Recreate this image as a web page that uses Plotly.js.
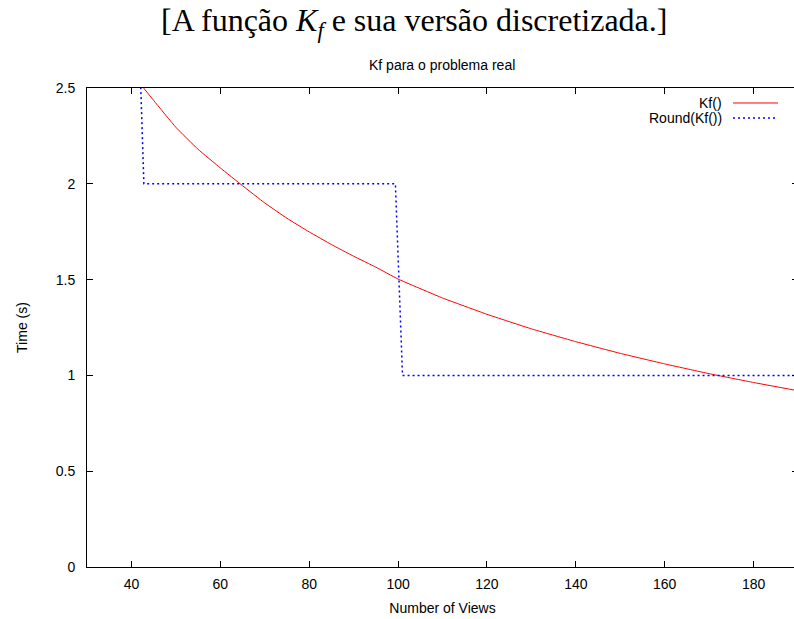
<!DOCTYPE html>
<html>
<head>
<meta charset="utf-8">
<script src="https://cdn.plot.ly/plotly-3.0.1.min.js"></script>
<style>
html, body { margin:0; padding:0; overflow:hidden; background:#fff; }
#chart { width:800px; height:619px; }
</style>
</head>
<body>
<div id="chart"></div>
<script>
// Kf() curve
const kfX = [41, 45, 50, 55, 60, 65, 70, 75, 80, 85, 90, 95, 100, 110, 120, 130, 140, 150, 160, 170, 180, 190];
const kfY = [2.55, 2.435, 2.295, 2.18, 2.083, 1.99, 1.90, 1.82, 1.749, 1.683, 1.622, 1.565, 1.503, 1.404, 1.319, 1.243, 1.176, 1.115, 1.060, 1.009, 0.963, 0.92];
// Round(Kf()) step curve
const roundX = [41.4, 42.8, 99.4, 101.0, 190.0];
const roundY = [3.0, 2.0, 2.0, 1.0, 1.0];

const seriesNames = ["Kf()", "Round(Kf())"];
const xTicks = [40, 60, 80, 100, 120, 140, 160, 180];
const yTicks = [0, 0.5, 1, 1.5, 2, 2.5];

const FONT = "Liberation Sans, Arial, sans-serif";

const traces = [
  {x: kfX, y: kfY, type: "scatter", mode: "lines", name: seriesNames[0],
   line: {color: "#ff0000", width: 1, shape: "spline", smoothing: 0.3}},
  {x: roundX, y: roundY, type: "scatter", mode: "lines", name: seriesNames[1],
   line: {color: "#0000ff", width: 1.5, dash: "2px,3px"}}
];

const axisCommon = {
  showline: true, linecolor: "#000", linewidth: 1, mirror: "ticks",
  ticks: "inside", ticklen: 6, tickcolor: "#000", tickwidth: 1,
  showgrid: false, zeroline: false,
  tickfont: {family: FONT, size: 14, color: "#000"}
};

const layout = {
  width: 800, height: 619,
  margin: {l: 87, r: 2, t: 88, b: 52},
  paper_bgcolor: "#fff", plot_bgcolor: "#fff",
  showlegend: false,
  xaxis: Object.assign({}, axisCommon, {
    range: [30, 190], tickmode: "array", tickvals: xTicks,
    ticktext: xTicks.map(String),
    ticklabelstandoff: 4,
    title: {text: "Number of Views", font: {family: FONT, size: 14, color: "#000"}, standoff: 12}
  }),
  yaxis: Object.assign({}, axisCommon, {
    range: [0, 2.5], tickmode: "array", tickvals: yTicks,
    ticktext: yTicks.map(String),
    ticklabelstandoff: 8,
    title: {text: "Time (s)", font: {family: FONT, size: 14, color: "#000"}, standoff: 24}
  }),
  annotations: [
    {text: "[A função <i>K</i><sub><i>f</i></sub> e sua versão discretizada.]",
     xref: "paper", yref: "paper", x: 0.46, y: 1.136, xanchor: "center", yanchor: "middle",
     showarrow: false, font: {family: "Liberation Serif, DejaVu Serif, serif", size: 32, color: "#000"}},
    {text: "Kf para o problema real",
     xref: "paper", yref: "paper", x: 0.4993, y: 1.048, xanchor: "center", yanchor: "middle",
     showarrow: false, font: {family: FONT, size: 14, color: "#000"}},
    {text: seriesNames[0], xref: "paper", yref: "paper", x: 0.8955, y: 0.9677,
     xanchor: "right", yanchor: "middle", showarrow: false,
     font: {family: FONT, size: 14, color: "#000"}},
    {text: seriesNames[1], xref: "paper", yref: "paper", x: 0.8955, y: 0.9364,
     xanchor: "right", yanchor: "middle", showarrow: false,
     font: {family: FONT, size: 14, color: "#000"}}
  ],
  shapes: [
    {type: "line", xref: "paper", yref: "paper", x0: 0.9086, x1: 0.9719, y0: 0.9687, y1: 0.9687,
     line: {color: "#ff0000", width: 1}},
    {type: "line", xref: "paper", yref: "paper", x0: 0.9086, x1: 0.9719, y0: 0.9374, y1: 0.9374,
     line: {color: "#0000ff", width: 1.5, dash: "2px,3px"}}
  ]
};

Plotly.newPlot("chart", traces, layout, {staticPlot: true, displayModeBar: false});
</script>
</body>
</html>
